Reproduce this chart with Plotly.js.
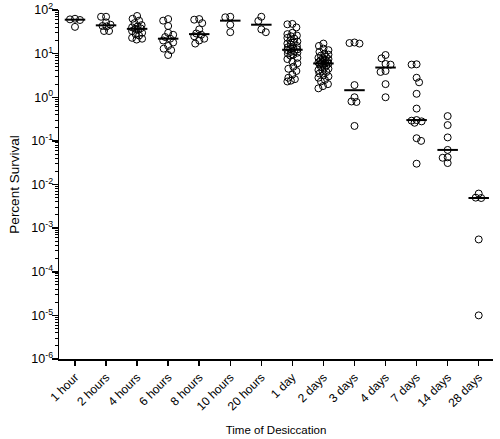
<!DOCTYPE html>
<html><head><meta charset="utf-8">
<script src="https://cdn.plot.ly/plotly-3.0.1.min.js"></script>
<style>html,body{margin:0;padding:0;background:#fff}#chart{width:500px;height:439px}</style>
</head><body><div id="chart"></div>
<script>
// ---- data ----
const categories = ['1 hour','2 hours','4 hours','6 hours','8 hours','10 hours','20 hours','1 day','2 days','3 days','4 days','7 days','14 days','28 days'];
const hour1  = [63, 61, 59, 41];
const hours2 = [70, 70, 52, 46, 43, 42, 33, 33];
const hours4 = [73, 63, 57, 50, 45, 42, 40, 38, 37, 35, 33, 30, 28, 26, 23, 22, 21];
const hours6 = [62, 57, 43, 30, 27, 24, 22, 20, 18, 15, 13, 12, 9.3];
const hours8 = [62, 60, 50, 36, 29, 27, 25, 22, 20, 17];
const hours10 = [70, 68, 46, 31];
const hours20 = [70, 56, 36, 31];
const day1 = [48, 47, 40, 30, 28, 26, 25, 23, 22, 20, 19, 18, 17, 16, 15, 14, 13.5, 13, 12.5, 12, 11.5, 11, 10.5, 10, 9.5, 9, 8, 7.5, 6.5, 6, 5, 4.5, 4, 3.3, 2.8, 2.6, 2.4, 2.3];
const days2 = [17, 15, 13, 12, 11, 10, 9.5, 9, 8.5, 8, 7.8, 7.5, 7.2, 7, 6.8, 6.5, 6.3, 6.1, 6, 5.9, 5.7, 5.5, 5.3, 5, 4.8, 4.5, 4.2, 4, 3.8, 3.5, 3.2, 3, 2.8, 2.5, 2.3, 2, 1.8, 1.6];
const days3 = [18, 17.5, 17, 1.9, 1.0, 0.8, 0.78, 0.22];
const days4 = [9.3, 7.8, 5.8, 5.6, 4.0, 3.8, 2.0, 1.0];
const days7 = [5.7, 5.6, 2.8, 2.2, 1.2, 0.55, 0.3, 0.29, 0.28, 0.26, 0.115, 0.1, 0.03];
const days14 = [0.37, 0.23, 0.12, 0.062, 0.042, 0.041, 0.031];
const days28 = [0.0062, 0.005, 0.0049, 0.00055, 0.00001];
const seriesValues = [hour1, hours2, hours4, hours6, hours8, hours10, hours20, day1, days2, days3, days4, days7, days14, days28];
const yTickValues = [1e-6, 1e-5, 1e-4, 1e-3, 1e-2, 1e-1, 1e0, 1e1, 1e2];
const yTickLabels = ['10<sup>-6</sup>','10<sup>-5</sup>','10<sup>-4</sup>','10<sup>-3</sup>','10<sup>-2</sup>','10<sup>-1</sup>','10<sup>0</sup>','10<sup>1</sup>','10<sup>2</sup>'];

// ---- layout geometry ----
const M = {l: 59, r: 7, t: 10, b: 80};
const XR = [-0.515, 13.46], YR = [-6, 2];
const plotW = 500 - M.l - M.r, plotH = 439 - M.t - M.b;
const pxPerCat = plotW / (XR[1] - XR[0]);
const pxPerDec = plotH / (YR[1] - YR[0]);
const SEP = 5, MAXW = 5;

function swarm(vals) {
  const order = vals.map((v, i) => i).sort((a, b) => vals[b] - vals[a]);
  const placed = [];
  const off = new Array(vals.length).fill(0);
  for (const i of order) {
    const y = Math.log10(vals[i]) * pxPerDec;
    const left = placed.filter(p => p.x < 0).length, right = placed.filter(p => p.x > 0).length;
    const cands = [0];
    for (let s = 0.5; s <= MAXW; s += 0.5) {
      if (left <= right) { cands.push(-s, s); } else { cands.push(s, -s); }
    }
    let best = 0, bestScore = -1;
    for (const c of cands) {
      let md = Infinity;
      for (const p of placed) { const d = Math.hypot(p.x - c, p.y - y); if (d < md) md = d; }
      if (md >= SEP) { best = c; break; }
      if (md > bestScore) { bestScore = md; best = c; }
    }
    placed.push({x: best, y: y});
    off[i] = best;
  }
  return off;
}
function median(a) {
  const s = [...a].sort((x, y) => x - y), n = s.length;
  return n % 2 ? s[(n - 1) / 2] : (s[n / 2 - 1] + s[n / 2]) / 2;
}

const px = [], py = [], lx = [], ly = [];
seriesValues.forEach((vals, ci) => {
  const off = swarm(vals);
  vals.forEach((v, j) => { px.push(ci + off[j] / pxPerCat); py.push(v); });
  const m = median(vals);
  lx.push(ci - 0.33, ci + 0.33, null); ly.push(m, m, null);
});

const FONT = 'Liberation Sans, Arial, sans-serif';
const traces = [
  {x: px, y: py, type: 'scatter', mode: 'markers', cliponaxis: false, hoverinfo: 'y',
   marker: {symbol: 'circle-open', size: 7, color: '#000', line: {width: 1, color: '#000'}}},
  {x: lx, y: ly, type: 'scatter', mode: 'lines', cliponaxis: false, hoverinfo: 'skip',
   line: {color: '#000', width: 2}}
];
const minorVals = [];
for (let e = -6; e < 2; e++) for (let d = 2; d <= 9; d++) minorVals.push(d * Math.pow(10, e));

const layout = {
  width: 500, height: 439, margin: M, showlegend: false,
  paper_bgcolor: '#fff', plot_bgcolor: '#fff',
  font: {family: FONT, color: '#000', size: 11},
  xaxis: {range: XR, tickmode: 'array', tickvals: categories.map((c, i) => i), ticktext: categories,
    tickangle: -45, ticks: 'outside', ticklen: 5, tickwidth: 1.5, tickcolor: '#000',
    showline: true, linewidth: 1.5, linecolor: '#000', showgrid: false, zeroline: false,
    tickfont: {size: 12, family: FONT, color: '#000'},
    title: {text: 'Time of Desiccation', font: {size: 11.5, family: FONT, color: '#000'}, standoff: 13}},
  yaxis: {type: 'log', range: YR, tickmode: 'array', tickvals: yTickValues, ticktext: yTickLabels,
    ticks: 'outside', ticklen: 6, tickwidth: 1.5, tickcolor: '#000',
    showline: true, linewidth: 1.5, linecolor: '#000', showgrid: false, zeroline: false,
    tickfont: {size: 12.5, family: FONT, color: '#000'}, ticklabelstandoff: -4,
    minor: {tickmode: 'array', tickvals: minorVals, ticks: 'outside', ticklen: 3, tickwidth: 1, tickcolor: '#000', showgrid: false},
    title: {text: 'Percent Survival', font: {size: 13.5, family: FONT, color: '#000'}, standoff: 8}}
};
Plotly.newPlot('chart', traces, layout, {displayModeBar: false, staticPlot: true});
</script>
</body></html>
